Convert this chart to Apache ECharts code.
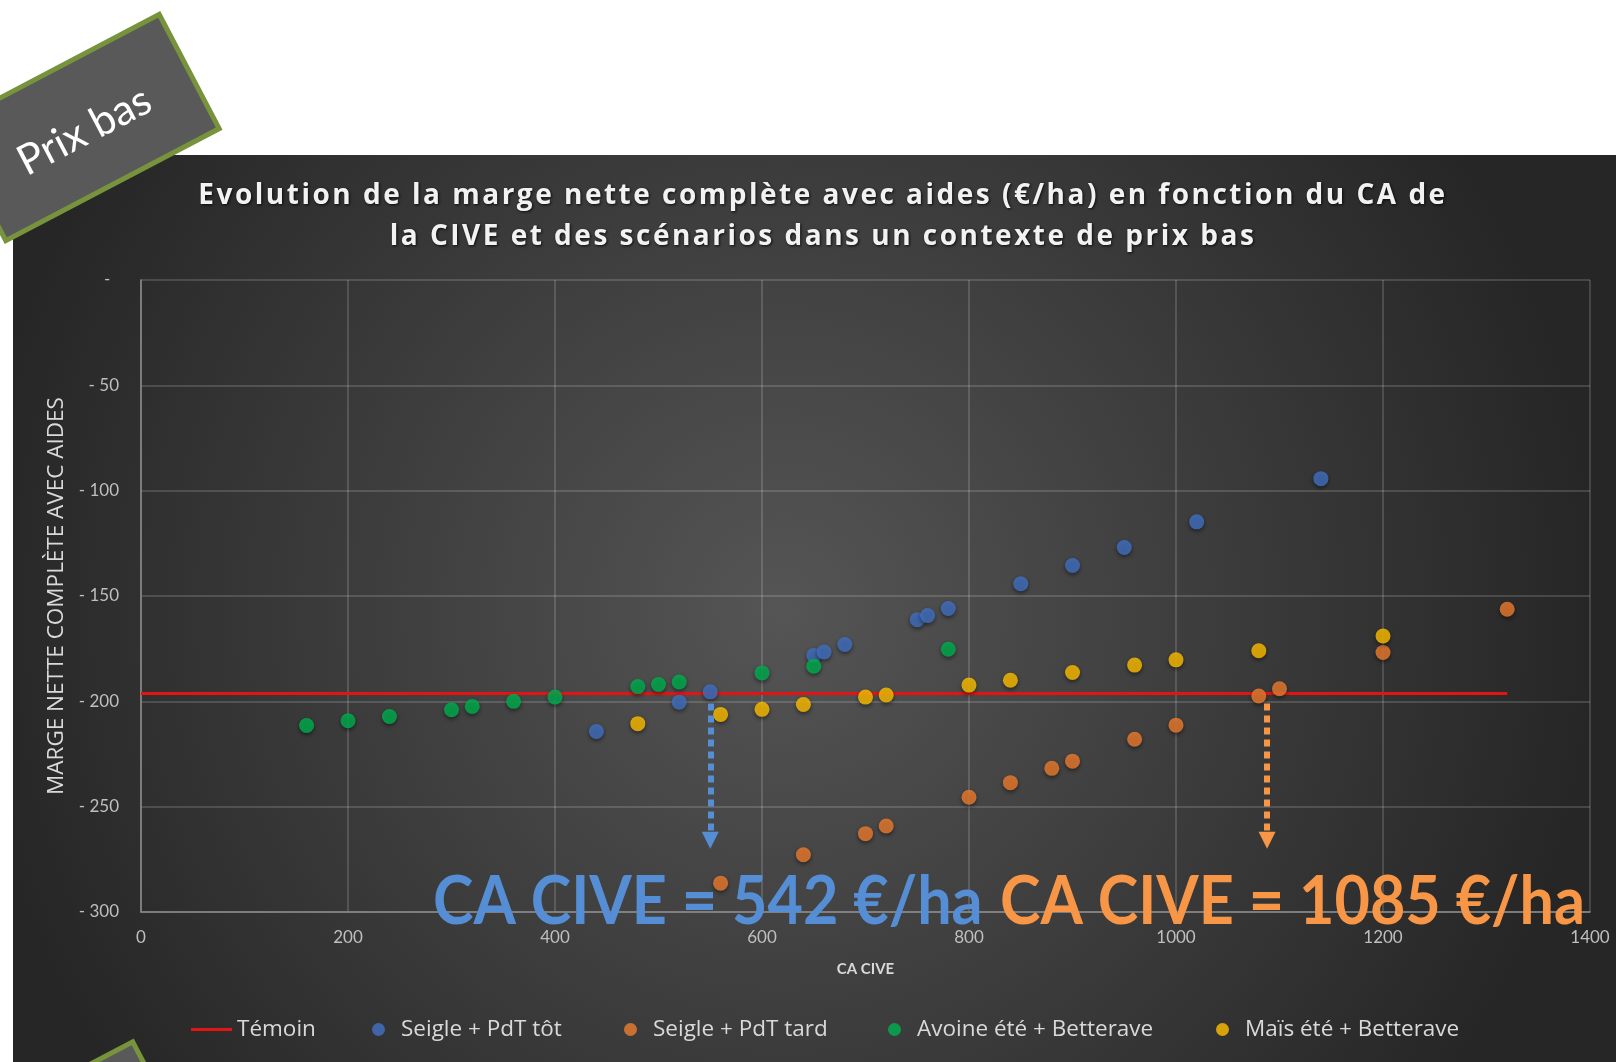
<!DOCTYPE html>
<html>
<head>
<meta charset="utf-8">
<title>Prix bas - marge nette</title>
<script src="https://cdn.jsdelivr.net/npm/echarts@6/dist/echarts.min.js"></script>
<style>
  html, body { margin: 0; padding: 0; background: #ffffff; }
  #chart { width: 1616px; height: 1062px; }
</style>
</head>
<body>
<div id="chart"></div>
<script>
// valeurs
var temoinX = [0, 1320];
var temoinY = [-196.3, -196.3];

var totX = [440, 520, 550, 650, 660, 680, 750, 760, 780, 850, 900, 950, 1020, 1140];
var totY = [-214.3, -200.4, -195.5, -178.2, -176.6, -173, -161.3, -159.3, -155.9, -144.2, -135.5, -127, -114.8, -94.3];

var tardX = [560, 640, 700, 720, 800, 840, 880, 900, 960, 1000, 1080, 1100, 1200, 1320];
var tardY = [-286.3, -272.8, -262.8, -259.2, -245.5, -238.6, -231.8, -228.4, -218, -211.3, -197.5, -194, -176.8, -156.3];

var avoineX = [160, 200, 240, 300, 320, 360, 400, 480, 500, 520, 600, 650, 780];
var avoineY = [-211.5, -209.2, -207.2, -204, -202.4, -200, -198, -193, -192, -190.8, -186.5, -183.3, -175.3];

var maisX = [480, 560, 600, 640, 700, 720, 800, 840, 900, 960, 1000, 1080, 1200];
var maisY = [-210.6, -206.2, -203.8, -201.5, -198, -197, -192.3, -190, -186.3, -182.8, -180.3, -176, -169];

// fleches (CA CIVE seuil)
var flecheBleueX = 550;
var flecheOrangeX = 1088;
var flecheHaut = -201;
var flecheBas = -266;

var noms = ['Témoin', 'Seigle + PdT tôt', 'Seigle + PdT tard', 'Avoine été + Betterave', 'Maïs été + Betterave'];
var titre1 = 'Evolution de la marge nette complète avec aides (€/ha) en fonction du CA de';
var titre2 = 'la CIVE et des scénarios dans un contexte de prix bas';

function pairs(xs, ys) {
  return xs.map(function (x, i) { return [x, ys[i]]; });
}

// espacement des lettres comme dans Excel
function espace(s) {
  return s.split('').map(function (c) { return '{l|' + c + '}'; }).join('');
}

var styleTitre = {
  color: '#f2f2f2', fontSize: 28, fontWeight: 'bold', fontFamily: 'Open Sans', lineHeight: 38,
  padding: [0, 2.5, 0, 0],
  textShadowColor: 'rgba(0,0,0,0.8)', textShadowBlur: 3, textShadowOffsetX: 1, textShadowOffsetY: 1
};

function ligneTitre(s, top) {
  return {
    text: espace(s), left: 823, top: top, textAlign: 'center', padding: 0,
    textStyle: { color: '#f2f2f2', fontSize: 28, fontWeight: 'bold', fontFamily: 'Open Sans', rich: { l: styleTitre } }
  };
}

function uneLegende(item, left, w, h, pad) {
  return {
    data: [item], left: left, top: 1018, padding: 0,
    itemWidth: w, itemHeight: h, selectedMode: false,
    textStyle: { color: '#d9d9d9', fontSize: 22.5, fontFamily: 'Open Sans', padding: [0, 0, 0, pad] }
  };
}

function fleche(x, couleur) {
  return {
    silent: true, animation: false,
    symbol: ['none', 'triangle'], symbolSize: 17,
    label: { show: false },
    lineStyle: { color: couleur, width: 6, type: [7, 5] },
    emphasis: { disabled: true },
    data: [[{ coord: [x, flecheHaut] }, { coord: [x, flecheBas] }]]
  };
}

var ombre = { shadowBlur: 4, shadowColor: 'rgba(0,0,0,0.6)', shadowOffsetY: 2 };

var chart = echarts.init(document.getElementById('chart'));
var option = {
  animation: false,
  backgroundColor: '#ffffff',
  title: [ligneTitre(titre1, 177), ligneTitre(titre2, 218)],
  legend: [
    uneLegende({ name: noms[0], icon: 'rect' }, 191, 41, 3, 0),
    uneLegende(noms[1], 372, 13, 13, 11),
    uneLegende(noms[2], 624, 13, 13, 11),
    uneLegende(noms[3], 888, 13, 13, 11),
    uneLegende(noms[4], 1216, 13, 13, 11)
  ],
  grid: { left: 141, right: 26, top: 280, bottom: 150 },
  xAxis: {
    type: 'value', min: 0, max: 1400, interval: 200,
    name: 'CA CIVE', nameLocation: 'middle', nameGap: 50,
    nameTextStyle: { color: '#d9d9d9', fontSize: 15, fontWeight: 'bold', fontFamily: 'Lato' },
    axisLine: { onZero: false, lineStyle: { color: '#8c8c8c', width: 1.5 } },
    axisTick: { show: false },
    axisLabel: { color: '#bfbfbf', fontSize: 17, fontFamily: 'Lato', margin: 17,
      formatter: function (v) { return String(v); } },
    splitLine: { lineStyle: { color: 'rgba(255,255,255,0.2)', width: 1.5 } }
  },
  yAxis: {
    type: 'value', min: -300, max: 0, interval: 50,
    name: 'MARGE NETTE COMPLÈTE AVEC AIDES', nameLocation: 'middle', nameGap: 68,
    nameTextStyle: { color: '#d9d9d9', fontSize: 22.5, fontFamily: 'Open Sans' },
    axisLine: { onZero: false, lineStyle: { color: '#8c8c8c', width: 1.5 } },
    axisTick: { show: false },
    axisLabel: {
      color: '#bfbfbf', fontSize: 17, fontFamily: 'Lato', margin: 22,
      formatter: function (v) { return v === 0 ? '-  ' : '- ' + Math.abs(v); }
    },
    splitLine: { lineStyle: { color: 'rgba(255,255,255,0.2)', width: 1.5 } }
  },
  series: [
    {
      name: noms[0], type: 'line', symbol: 'none', z: 2,
      lineStyle: { color: '#e41414', width: 3 }, itemStyle: { color: '#e41414' },
      data: pairs(temoinX, temoinY)
    },
    {
      name: noms[1], type: 'scatter', symbolSize: 15,
      itemStyle: Object.assign({ color: '#4472C4' }, ombre),
      data: pairs(totX, totY),
      markLine: fleche(flecheBleueX, '#558ED5')
    },
    {
      name: noms[2], type: 'scatter', symbolSize: 15,
      itemStyle: Object.assign({ color: '#ED7D31' }, ombre),
      data: pairs(tardX, tardY),
      markLine: fleche(flecheOrangeX, '#F79646')
    },
    {
      name: noms[3], type: 'scatter', symbolSize: 15,
      itemStyle: Object.assign({ color: '#00B050' }, ombre),
      data: pairs(avoineX, avoineY)
    },
    {
      name: noms[4], type: 'scatter', symbolSize: 15,
      itemStyle: Object.assign({ color: '#FFC000' }, ombre),
      data: pairs(maisX, maisY)
    }
  ],
  graphic: [
    {
      type: 'rect', z: -10, silent: true,
      shape: { x: 13, y: 155, width: 1603, height: 907 },
      style: {
        fill: {
          type: 'radial', x: 0.48, y: 0.5, r: 0.9,
          colorStops: [{ offset: 0, color: '#555555' }, { offset: 1, color: '#262626' }]
        }
      }
    },
    {
      type: 'group', x: 82.5, y: 127.5, rotation: 27.7 * Math.PI / 180, z: 100,
      children: [
        { type: 'rect', z: 100, shape: { x: -120.5, y: -64.5, width: 241, height: 129 },
          style: { fill: '#595959', stroke: '#77933C', lineWidth: 5 } },
        { type: 'text', z: 101, x: 0, y: 4,
          style: { text: 'Prix bas', fill: '#ffffff', fontSize: 42, fontFamily: 'Lato', align: 'center', verticalAlign: 'middle' } }
      ]
    },
    {
      type: 'group', x: 56, y: 1155, rotation: 27.7 * Math.PI / 180, z: 100,
      children: [
        { type: 'rect', z: 100, shape: { x: -120.5, y: -64.5, width: 241, height: 129 },
          style: { fill: '#595959', stroke: '#77933C', lineWidth: 5 } }
      ]
    },
    {
      type: 'text', x: 433, y: 903, z: 100, scaleX: 0.926,
      style: { text: 'CA CIVE = 542 €/ha', fill: '#558ED5', fontSize: 66, fontWeight: 'bold', fontFamily: 'Lato', verticalAlign: 'middle' }
    },
    {
      type: 'text', x: 1000, y: 903, z: 100, scaleX: 0.926,
      style: { text: 'CA CIVE = 1085 €/ha', fill: '#F79646', fontSize: 66, fontWeight: 'bold', fontFamily: 'Lato', verticalAlign: 'middle' }
    }
  ]
};
chart.setOption(option);
</script>
</body>
</html>
